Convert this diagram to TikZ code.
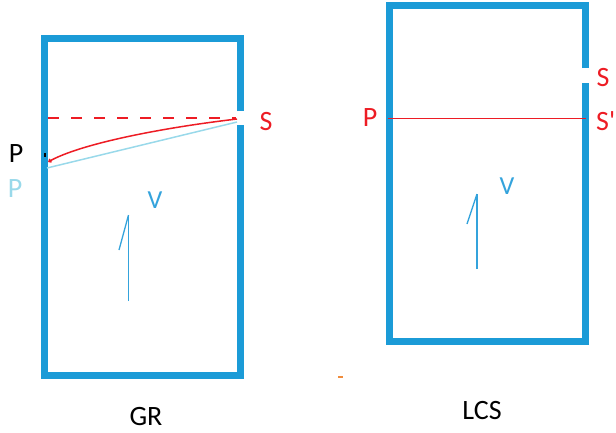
\documentclass[tikz,border=0pt]{standalone}
\usepackage{fontspec}
\setmainfont{Carlito}[Ligatures=TeXOff]
\usetikzlibrary{arrows.meta}
\definecolor{wallblue}{RGB}{27,155,215}
\definecolor{arrowblue}{RGB}{52,163,220}
\definecolor{lblue}{RGB}{153,217,234}
\definecolor{pred}{RGB}{237,28,36}
\definecolor{porange}{RGB}{240,140,60}
\tikzset{
  wall/.style={draw=wallblue, line width=7pt, line cap=butt, line join=miter},
  lbl/.style={inner sep=0pt, font=\fontsize{28}{30}\selectfont},
  vlbl/.style={inner sep=0pt, font=\fontsize{26}{28}\selectfont, text=arrowblue},
  vel/.style={draw=arrowblue, line width=1.6pt},
  ray/.style={draw=pred, line width=1.5pt},
}
\begin{document}
\begin{tikzpicture}[x=1pt,y=-1pt]
\useasboundingbox (0,0) rectangle (616,432);
% GR box
\draw[wall] (240.5,111) -- (240.5,38) -- (44.5,38) -- (44.5,375) -- (240.5,375) -- (240.5,125);
% LCS box
\draw[wall] (585.5,68) -- (585.5,5.5) -- (389.5,5.5) -- (389.5,341) -- (585.5,341) -- (585.5,83);
% GR coordinates
\coordinate (d1) at (48,118);
\coordinate (d2) at (236,118);
\coordinate (c0) at (48,162);
\coordinate (c1) at (237,119);
\coordinate (b0) at (47,168);
\coordinate (b1) at (237,122);
\draw[draw=pred, line width=1.5pt, dash pattern=on 11pt off 12pt] (d1) -- (d2);
\draw[ray, {Straight Barb[length=2pt,width=3.5pt]}-] (c0) .. controls (80,144) and (160,128) .. (c1);
\draw[draw=lblue, line width=1.5pt] (b0) -- (b1);
\draw[black, line width=1.2pt] (45,153) -- (45,157);
% labels GR
\node[lbl, text=black] (pb) at (16,154) {P};
\node[lbl, text=lblue] (pl) at (15,189) {P};
\node[lbl, text=pred] (s1) at (266,122) {S};
\node[vlbl] (v1) at (155,200) {V};
\coordinate (a0) at (128.5,301);
\coordinate (a1) at (128.5,215);
\coordinate (h1) at (119,250);
\draw[vel] (a0) -- (a1);
\draw[vel, line width=1.3pt] (a1) -- (h1);
\node[lbl, text=black] (gr) at (146,417) {GR};
% LCS
\coordinate (r0) at (388,118.3);
\coordinate (r1) at (586,118.3);
\draw[draw=pred, line width=1.3pt] (r0) -- (r1);
\node[lbl, text=pred] (p2) at (370,118) {P};
\node[lbl, text=pred] (s2) at (603,78) {S};
\node[lbl, text=pred, anchor=west] (s3) at (596,121) {S'};
\node[vlbl] (v2) at (507,186) {V};
\coordinate (e0) at (477,269);
\coordinate (e1) at (477,194);
\coordinate (k1) at (467,224);
\draw[vel] (e0) -- (e1);
\draw[vel, line width=1.3pt] (e1) -- (k1);
\node[lbl, text=black] (lcs) at (482,411) {LCS};
\coordinate (o0) at (338,377);
\coordinate (o1) at (343,377);
\draw[porange, line width=1.2pt] (o0) -- (o1);
\end{tikzpicture}
\end{document}
